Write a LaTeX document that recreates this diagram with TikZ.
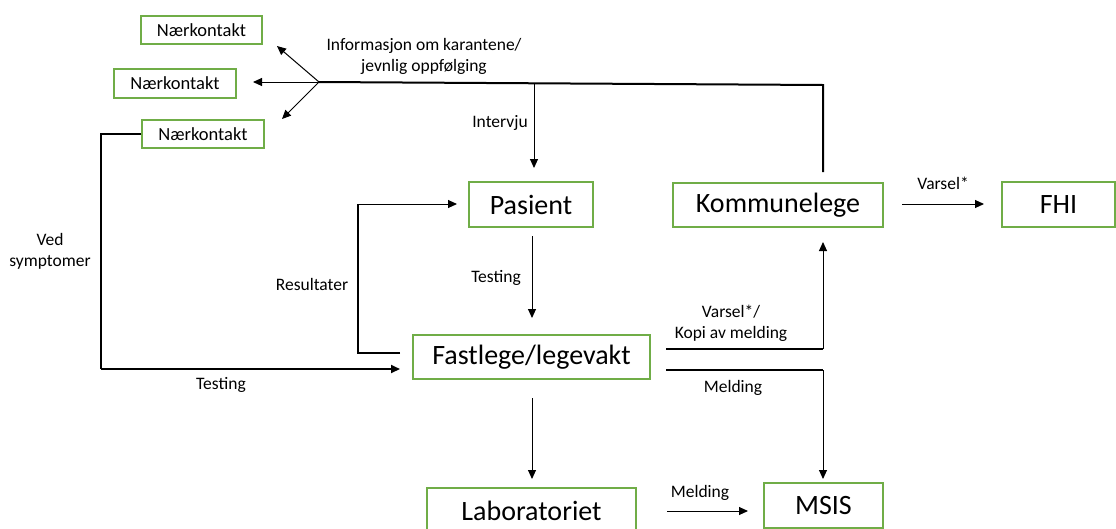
\documentclass[tikz,border=0pt]{standalone}
\usepackage{fontspec}
\setmainfont{Carlito}
\usetikzlibrary{arrows.meta}
\definecolor{boxgreen}{RGB}{112,173,71}
\tikzset{
  box/.style={draw=boxgreen, line width=1.6pt, inner sep=0pt, font=\fontsize{28}{34}\selectfont},
  smallbox/.style={draw=boxgreen, line width=1.6pt, inner sep=0pt, font=\fontsize{18.5}{22}\selectfont},
  lbl/.style={inner sep=0pt, align=center, font=\fontsize{17.5}{21}\selectfont},
  thin/.style={line width=1pt},
  thk/.style={line width=2pt},
  arr/.style={-{Triangle[length=9pt,width=8pt]}},
}
\begin{document}
\begin{tikzpicture}[x=1pt,y=-1pt]
\useasboundingbox (0,0) rectangle (1116,528);
% boxes
\node[smallbox, minimum width=121pt, minimum height=28pt] (nk1) at (201.5,30) {Nærkontakt};
\node[smallbox, minimum width=122pt, minimum height=29pt] (nk2) at (175,83.5) {Nærkontakt};
\node[smallbox, minimum width=122pt, minimum height=28pt] (nk3) at (203,134) {Nærkontakt};
\node[box, minimum width=124pt, minimum height=45pt] (pasient) at (531,204.5) {Pasient};
\node[box, minimum width=210pt, minimum height=44pt] (kom) at (778,205) {Kommunelege};
\node[box, minimum width=113pt, minimum height=45pt] (fhi) at (1058.5,204.5) {FHI};
\node[box, minimum width=237pt, minimum height=44pt] (fast) at (531.5,357) {Fastlege/legevakt};
\node[box, minimum width=209pt, minimum height=45pt] (lab) at (531.5,510.5) {Laboratoriet};
\node[box, minimum width=119pt, minimum height=45pt] (msis) at (823.5,505.5) {MSIS};
% coordinates
\coordinate (split) at (319,82);
\coordinate (infoR) at (823,85);
\coordinate (komtop) at (823,172);
\coordinate (a1) at (277,46);
\coordinate (a2) at (253,82);
\coordinate (a3) at (282,119);
\coordinate (intS) at (534,84);
\coordinate (intE) at (534,168);
\coordinate (vs1) at (101,134);
\coordinate (vs2) at (101,369);
\coordinate (vsE) at (400,369);
\coordinate (r0) at (400,353);
\coordinate (r1) at (358,353);
\coordinate (r2) at (358,204);
\coordinate (rE) at (457,204);
\coordinate (tS) at (532,236);
\coordinate (tE) at (532,318);
\coordinate (lS) at (532,398);
\coordinate (lE) at (532,479);
\coordinate (k0) at (666,349);
\coordinate (k1) at (823,349);
\coordinate (kE) at (823,242);
\coordinate (m0) at (666,370);
\coordinate (m1) at (823,370);
\coordinate (mE) at (823,479);
\coordinate (lmS) at (667,511);
\coordinate (lmE) at (748,511);
\coordinate (vS) at (902,204);
\coordinate (vE) at (984,204);
% connectors
\draw[thk] (split) -- (infoR) -- (komtop);
\draw[thin,arr] (split) -- (a1);
\draw[thin,arr] (split) -- (a2);
\draw[thin,arr] (split) -- (a3);
\draw[thin,arr] (intS) -- (intE);
\draw[thk] (nk3.west) -- (vs1) -- (vs2);
\draw[thk,arr] (vs2) -- (vsE);
\draw[thk] (r0) -- (r1) -- (r2);
\draw[thin,arr] (r2) -- (rE);
\draw[thin,arr] (tS) -- (tE);
\draw[thin,arr] (lS) -- (lE);
\draw[thk] (k0) -- (k1);
\draw[thin,arr] (k1) -- (kE);
\draw[thk] (m0) -- (m1);
\draw[thin,arr] (m1) -- (mE);
\draw[thin,arr] (lmS) -- (lmE);
\draw[thin,arr] (vS) -- (vE);
% labels
\node[lbl] (linfo) at (424,56) {Informasjon om karantene/\\jevnlig oppfølging};
\node[lbl] (lint) at (500,123) {Intervju};
\node[lbl] (lved) at (50,251) {Ved\\symptomer};
\node[lbl] (lres) at (312,284) {Resultater};
\node[lbl] (ltest1) at (496,278) {Testing};
\node[lbl] (ltest2) at (221,385) {Testing};
\node[lbl] (lvk) at (731,323) {Varsel*/\\Kopi av melding};
\node[lbl] (lmeld1) at (733,388) {Melding};
\node[lbl] (lmeld2) at (700,493) {Melding};
\node[lbl] (lvar) at (943,183) {Varsel*};
\end{tikzpicture}
\end{document}
